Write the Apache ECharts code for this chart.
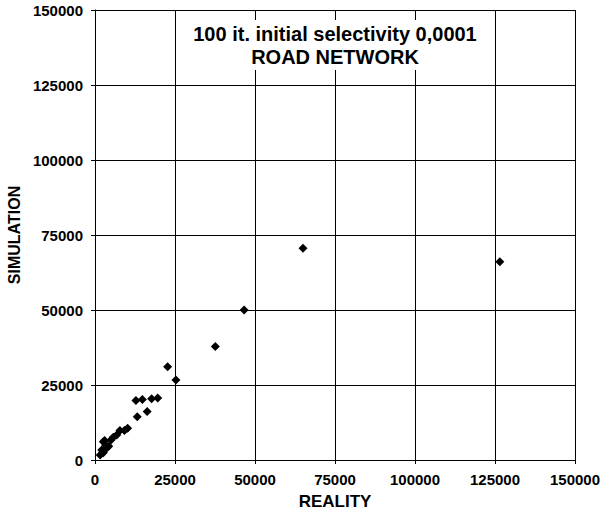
<!DOCTYPE html>
<html>
<head>
<meta charset="utf-8">
<script src="https://cdn.jsdelivr.net/npm/echarts@6/dist/echarts.min.js"></script>
<style>html,body{margin:0;padding:0;background:#fff;}#c{width:608px;height:510px;}</style>
</head>
<body>
<div id="c"></div>
<script>
var reality = [126500, 65000, 46600, 37600, 22700, 25300, 12800, 14800, 17700, 19600, 13200, 16300,
  10200, 9200, 7800, 6800, 5700, 5000, 2600, 3300, 3600, 2100, 1600, 2600, 3000, 4300];
var simulation = [66100, 70600, 50000, 37800, 31100, 26700, 19800, 20200, 20400, 20700, 14400, 16200,
  10600, 9800, 9800, 8300, 7600, 6700, 6100, 5000, 3900, 3300, 1700, 2400, 6500, 4600];
var xTicks = [0, 25000, 50000, 75000, 100000, 125000, 150000];
var yTicks = [0, 25000, 50000, 75000, 100000, 125000, 150000];
var titleLines = ['100 it. initial selectivity 0,0001', 'ROAD NETWORK'];

var points = reality.map(function (r, i) { return [r, simulation[i]]; });
var font = 'Arial, "Liberation Sans", sans-serif';
var plain = function (v) { return String(v); };
var chart = echarts.init(document.getElementById('c'), null, {renderer: 'svg'});
chart.setOption({
  animation: false,
  backgroundColor: '#fff',
  grid: {left: 95, right: 33, top: 10, bottom: 50, containLabel: false, outerBoundsMode: 'none'},
  xAxis: {
    type: 'value', min: xTicks[0], max: xTicks[xTicks.length - 1], interval: xTicks[1] - xTicks[0],
    name: 'REALITY', nameLocation: 'middle', nameGap: 33,
    nameTextStyle: {fontFamily: font, fontWeight: 'bold', fontSize: 17, color: '#000'},
    axisLine: {show: true, lineStyle: {color: '#000', width: 1}},
    axisTick: {show: true, length: 4, lineStyle: {color: '#000'}},
    axisLabel: {fontFamily: font, fontWeight: 'bold', fontSize: 15, color: '#000', margin: 12, formatter: plain},
    splitLine: {show: true, lineStyle: {color: '#000', width: 1}}
  },
  yAxis: {
    type: 'value', min: yTicks[0], max: yTicks[yTicks.length - 1], interval: yTicks[1] - yTicks[0],
    name: 'SIMULATION', nameLocation: 'middle', nameGap: 66,
    nameTextStyle: {fontFamily: font, fontWeight: 'bold', fontSize: 16, color: '#000'},
    axisLine: {show: true, lineStyle: {color: '#000', width: 1}},
    axisTick: {show: true, length: 4, lineStyle: {color: '#000'}},
    axisLabel: {fontFamily: font, fontWeight: 'bold', fontSize: 15, color: '#000', margin: 12, formatter: plain},
    splitLine: {show: true, lineStyle: {color: '#000', width: 1}}
  },
  graphic: [{
    type: 'text', x: 335, y: 20, z: 100,
    style: {
      text: titleLines.join('\n'), fontFamily: font, fontWeight: 'bold', fontSize: 20,
      lineHeight: 23, fill: '#000', align: 'center', verticalAlign: 'top',
      backgroundColor: '#fff', padding: [2, 6]
    }
  }],
  series: [{
    type: 'scatter', data: points, symbol: 'diamond', symbolSize: 9,
    itemStyle: {color: '#000', opacity: 1}
  }]
});
</script>
</body>
</html>
